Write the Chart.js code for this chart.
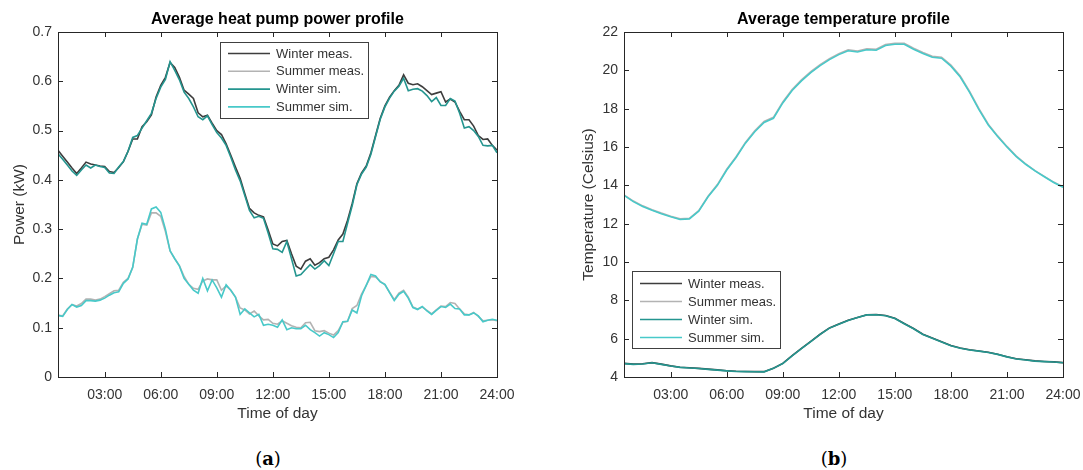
<!DOCTYPE html>
<html>
<head>
<meta charset="utf-8">
<script src="https://cdn.jsdelivr.net/npm/chart.js@4"></script>
<style>
  html, body { margin: 0; padding: 0; background: #fff; }
  body { width: 1083px; height: 470px; position: relative; overflow: hidden; font-family: "Liberation Sans", Arial, sans-serif; }
  .panel { position: absolute; top: 0; height: 430px; }
  .tag { position: absolute; top: 449px; line-height: 20px; font-family: "DejaVu Serif", serif; font-size: 18px; color: #000; text-align: center; width: 60px; }
</style>
</head>
<body>
<div class="panel" style="left:0;width:540px"><canvas id="chartPower"></canvas></div>
<div class="panel" style="left:540px;width:560px"><canvas id="chartTemp"></canvas></div>
<div class="tag" style="left:238px">(<b>a</b>)</div>
<div class="tag" style="left:804px">(<b>b</b>)</div>
<script>
// Horas del día (15 min para potencia, 30 min para temperatura)
const powerTimes = Array.from({ length: 95 }, (_, i) => 0.5 + i * 0.25);
const tempTimes = Array.from({ length: 48 }, (_, i) => 0.5 + i * 0.5);

const hourTicks = [3, 6, 9, 12, 15, 18, 21, 24];
const hourLabels = ['03:00', '06:00', '09:00', '12:00', '15:00', '18:00', '21:00', '24:00'];
const powerTicks = [0, 0.1, 0.2, 0.3, 0.4, 0.5, 0.6, 0.7];
const powerLabels = ['0', '0.1', '0.2', '0.3', '0.4', '0.5', '0.6', '0.7'];
const tempTicks = [4, 6, 8, 10, 12, 14, 16, 18, 20, 22];

const seriesNames = ['Winter meas.', 'Summer meas.', 'Winter sim.', 'Summer sim.'];
const seriesColors = ['#3d3d3d', '#b3b3b3', '#24958f', '#48c9c9'];

// Potencia (kW)
const winterMeasPower = [
  .460, .448, .436, .424, .413, .424, .436, .432, .430, .428,
  .427, .417, .415, .425, .437, .458, .483, .483, .508, .518,
  .532, .568, .592, .608, .638, .628, .608, .582, .574, .565,
  .536, .528, .531, .515, .500, .492, .473, .450, .426, .403,
  .372, .342, .333, .328, .325, .298, .270, .266, .275, .277,
  .250, .225, .219, .235, .240, .227, .232, .240, .243, .258,
  .278, .290, .318, .352, .392, .414, .428, .455, .490, .525,
  .550, .568, .581, .592, .613, .596, .593, .595, .589, .581,
  .573, .576, .579, .558, .564, .558, .539, .522, .522, .509,
  .490, .482, .483, .470, .460];
const summerMeasPower = [
  .125, .124, .138, .147, .144, .149, .158, .158, .156, .158,
  .163, .169, .175, .176, .192, .200, .222, .280, .310, .308,
  .333, .333, .326, .295, .256, .240, .226, .204, .188, .180,
  .178, .195, .199, .197, .197, .176, .185, .176, .162, .140,
  .136, .128, .134, .124, .116, .117, .109, .107, .114, .109,
  .104, .101, .100, .110, .111, .094, .092, .094, .089, .085,
  .094, .111, .113, .139, .145, .168, .186, .204, .203, .194,
  .187, .172, .157, .170, .176, .162, .142, .138, .142, .135,
  .128, .136, .144, .143, .151, .149, .138, .128, .126, .131,
  .123, .114, .115, .116, .114];
const winterSimPower = [
  .453, .442, .430, .418, .409, .420, .430, .424, .430, .427,
  .425, .414, .413, .426, .437, .458, .486, .490, .505, .520,
  .535, .565, .588, .604, .640, .622, .603, .578, .565, .548,
  .528, .522, .530, .512, .496, .485, .470, .446, .420, .398,
  .368, .338, .323, .326, .322, .292, .260, .259, .253, .275,
  .240, .205, .208, .218, .228, .219, .226, .236, .226, .250,
  .275, .275, .312, .348, .390, .412, .426, .452, .488, .523,
  .548, .566, .580, .590, .606, .581, .584, .585, .580, .571,
  .559, .567, .551, .551, .565, .560, .535, .505, .508, .500,
  .488, .470, .469, .470, .455];
const summerSimPower = [
  .125, .123, .137, .147, .142, .145, .155, .155, .154, .156,
  .160, .166, .171, .173, .190, .199, .223, .280, .312, .310,
  .341, .345, .334, .300, .256, .240, .225, .200, .188, .176,
  .170, .200, .175, .197, .181, .162, .187, .176, .162, .127,
  .138, .130, .122, .127, .105, .107, .105, .101, .116, .096,
  .100, .098, .098, .105, .096, .090, .083, .090, .086, .080,
  .090, .112, .113, .136, .130, .165, .186, .208, .205, .193,
  .188, .171, .155, .168, .174, .160, .141, .137, .143, .134,
  .127, .135, .143, .141, .148, .139, .138, .126, .126, .130,
  .124, .112, .115, .117, .115];

// Temperatura (Celsius)
const winterMeasTemp = [
  4.71, 4.67, 4.69, 4.75, 4.67, 4.58, 4.51, 4.48, 4.45, 4.41,
  4.37, 4.33, 4.30, 4.29, 4.28, 4.28, 4.46, 4.71, 5.11, 5.49,
  5.86, 6.23, 6.56, 6.76, 6.96, 7.11, 7.25, 7.26, 7.21, 7.06,
  6.79, 6.53, 6.23, 6.03, 5.84, 5.64, 5.51, 5.42, 5.36, 5.29,
  5.19, 5.06, 4.95, 4.90, 4.84, 4.81, 4.79, 4.75];
const summerMeasTemp = [
  13.50, 13.18, 12.93, 12.73, 12.55, 12.39, 12.25, 12.28, 12.68, 13.43,
  14.04, 14.84, 15.49, 16.24, 16.85, 17.33, 17.55, 18.35, 19.00, 19.50,
  19.93, 20.30, 20.61, 20.87, 21.07, 21.01, 21.12, 21.10, 21.35, 21.41,
  21.41, 21.15, 20.93, 20.73, 20.68, 20.27, 19.70, 18.90, 18.00, 17.19,
  16.58, 16.03, 15.53, 15.12, 14.77, 14.47, 14.17, 13.92];
const winterSimTemp = [
  4.70, 4.66, 4.68, 4.74, 4.66, 4.57, 4.50, 4.47, 4.44, 4.40,
  4.36, 4.32, 4.29, 4.28, 4.27, 4.27, 4.45, 4.70, 5.10, 5.48,
  5.85, 6.22, 6.55, 6.75, 6.95, 7.10, 7.24, 7.25, 7.20, 7.05,
  6.78, 6.52, 6.22, 6.02, 5.83, 5.63, 5.50, 5.41, 5.35, 5.28,
  5.18, 5.05, 4.94, 4.89, 4.83, 4.80, 4.78, 4.74];
const summerSimTemp = [
  13.48, 13.15, 12.90, 12.70, 12.52, 12.36, 12.22, 12.25, 12.65, 13.40,
  14.00, 14.80, 15.45, 16.20, 16.80, 17.28, 17.50, 18.30, 18.95, 19.45,
  19.88, 20.25, 20.56, 20.82, 21.02, 20.96, 21.07, 21.05, 21.30, 21.36,
  21.36, 21.10, 20.88, 20.68, 20.63, 20.22, 19.65, 18.85, 17.95, 17.15,
  16.55, 16.00, 15.50, 15.10, 14.75, 14.45, 14.15, 13.90];

const FONT = '"Liberation Sans", Arial, sans-serif';
const TEXT = '#333333';

// Marco estilo MATLAB: caja, marcas hacia dentro, título y leyenda
const matlabFrame = {
    id: 'matlabFrame',
    afterDraw(chart, args, opts) {
        const { ctx, chartArea: a, scales } = chart;
        ctx.save();
        ctx.strokeStyle = '#262626';
        ctx.lineWidth = 1;
        ctx.beginPath();
        scales.x.ticks.forEach(t => {
            const px = Math.round(scales.x.getPixelForValue(t.value)) + 0.5;
            ctx.moveTo(px, a.bottom); ctx.lineTo(px, a.bottom - 5);
            ctx.moveTo(px, a.top); ctx.lineTo(px, a.top + 5);
        });
        scales.y.ticks.forEach(t => {
            const py = Math.round(scales.y.getPixelForValue(t.value)) + 0.5;
            ctx.moveTo(a.left, py); ctx.lineTo(a.left + 5, py);
            ctx.moveTo(a.right, py); ctx.lineTo(a.right - 5, py);
        });
        ctx.stroke();
        ctx.strokeRect(a.left + 0.5, a.top + 0.5, a.right - a.left, a.bottom - a.top);

        ctx.fillStyle = '#000';
        ctx.font = 'bold 16px ' + FONT;
        ctx.textAlign = 'center';
        ctx.textBaseline = 'alphabetic';
        ctx.fillText(opts.title, (a.left + a.right) / 2, a.top - 8);

        const lg = opts.legend;
        ctx.fillStyle = '#fff';
        ctx.fillRect(lg.x, lg.y, lg.w, lg.h);
        ctx.strokeStyle = '#404040';
        ctx.strokeRect(lg.x + 0.5, lg.y + 0.5, lg.w, lg.h);
        ctx.font = '13px ' + FONT;
        ctx.textAlign = 'left';
        ctx.textBaseline = 'middle';
        chart.data.datasets.forEach((ds, i) => {
            const ry = lg.y + lg.first + i * lg.step;
            ctx.strokeStyle = ds.borderColor;
            ctx.lineWidth = 1.6;
            ctx.beginPath();
            ctx.moveTo(lg.x + 8, ry); ctx.lineTo(lg.x + 50, ry);
            ctx.stroke();
            ctx.fillStyle = TEXT;
            ctx.fillText(ds.label, lg.x + 56, ry + 0.5);
        });
        ctx.restore();
    }
};

const makeDatasets = (times, arrays) => arrays.map((arr, i) => ({
    label: seriesNames[i],
    data: arr.map((v, k) => ({ x: times[k], y: v })),
    borderColor: seriesColors[i],
    borderWidth: 1.6,
    pointRadius: 0,
    fill: false,
    tension: 0,
    order: 4 - i
}));

const makeOptions = (cfg) => ({
    responsive: true,
    maintainAspectRatio: false,
    animation: false,
    layout: { padding: { left: 0, top: 32, right: cfg.padRight, bottom: 0 } },
    plugins: {
        legend: { display: false },
        tooltip: { enabled: false },
        matlabFrame: { title: cfg.title, legend: cfg.legend }
    },
    scales: {
        x: {
            type: 'linear',
            min: 0.5,
            max: 24,
            afterBuildTicks: s => { s.ticks = hourTicks.map(v => ({ value: v })); },
            afterFit: s => { s.height = 53; },
            grid: { display: false, drawTicks: false },
            border: { display: false },
            ticks: {
                autoSkip: false, maxRotation: 0, padding: 10, color: TEXT,
                font: { family: FONT, size: 14 },
                callback: v => hourLabels[hourTicks.indexOf(v)]
            },
            title: {
                display: true, text: 'Time of day', color: TEXT,
                font: { family: FONT, size: 15.5 },
                padding: { top: 0, bottom: 7 }
            }
        },
        y: {
            min: cfg.yTicks[0],
            max: cfg.yTicks[cfg.yTicks.length - 1],
            afterBuildTicks: s => { s.ticks = cfg.yTicks.map(v => ({ value: v })); },
            afterFit: s => { s.width = cfg.yWidth; },
            grid: { display: false, drawTicks: false },
            border: { display: false },
            ticks: {
                padding: 6, color: TEXT,
                font: { family: FONT, size: 14 },
                callback: cfg.yLabel
            },
            title: {
                display: true, text: cfg.yTitle, color: TEXT,
                font: { family: FONT, size: 15.5 },
                padding: { top: cfg.yTitlePad, bottom: 0 }
            }
        }
    }
});

new Chart(document.getElementById('chartPower'), {
    type: 'line',
    data: { datasets: makeDatasets(powerTimes, [winterMeasPower, summerMeasPower, winterSimPower, summerSimPower]) },
    options: makeOptions({
        title: 'Average heat pump power profile',
        padRight: 43,
        yWidth: 58,
        yTicks: powerTicks,
        yLabel: v => powerLabels[powerTicks.indexOf(v)],
        yTitle: 'Power (kW)',
        yTitlePad: 10,
        legend: { x: 220, y: 42, w: 148, h: 76, first: 11.5, step: 17.8 }
    }),
    plugins: [matlabFrame]
});

// el lienzo derecho es más ancho que la ventana para que la etiqueta "24:00" no recorte el área
new Chart(document.getElementById('chartTemp'), {
    type: 'line',
    data: { datasets: makeDatasets(tempTimes, [winterMeasTemp, summerMeasTemp, winterSimTemp, summerSimTemp]) },
    options: makeOptions({
        title: 'Average temperature profile',
        padRight: 37,
        yWidth: 84,
        yTicks: tempTicks,
        yLabel: v => String(v),
        yTitle: 'Temperature (Celsius)',
        yTitlePad: 39,
        legend: { x: 92, y: 271, w: 148, h: 77, first: 12.5, step: 18 }
    }),
    plugins: [matlabFrame]
});
</script>
</body>
</html>
